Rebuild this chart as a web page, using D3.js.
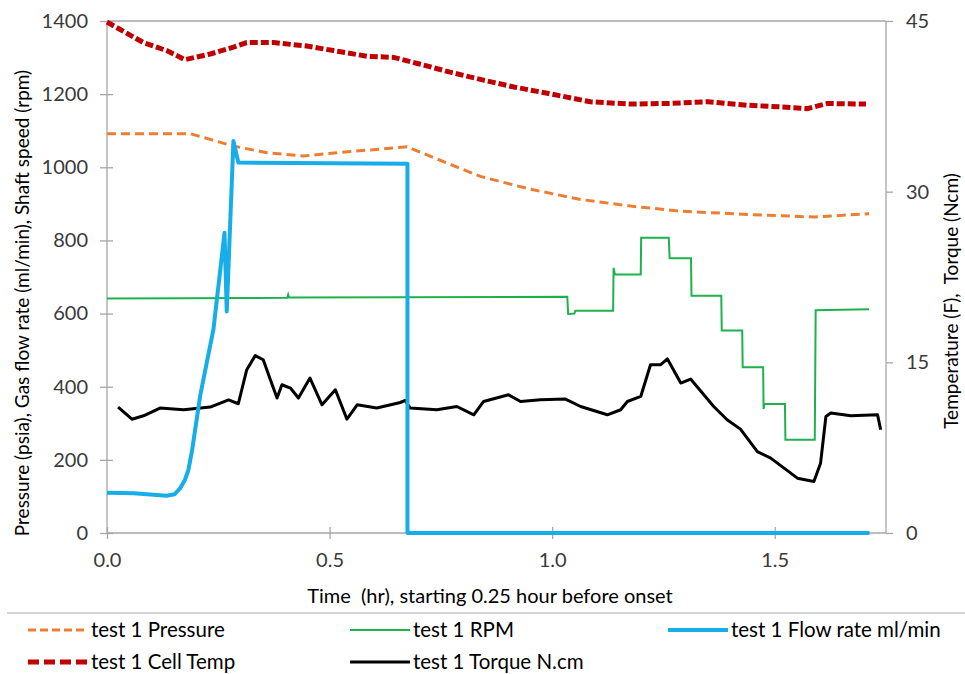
<!DOCTYPE html>
<html><head><meta charset="utf-8">
<script src="https://cdn.jsdelivr.net/npm/d3@7"></script>
<style>
body{margin:0;background:#fff;}
svg{display:block;font-family:Lato,"Open Sans",sans-serif;}
</style></head>
<body><svg id="c" width="965" height="674"></svg>
<script>
const xTicks = [0, 0.5, 1.0, 1.5];
const leftTicks = [0, 200, 400, 600, 800, 1000, 1200, 1400];
const rightTicks = [0, 15, 30, 45];

const pressT = [0, 0.187, 0.23, 0.284, 0.359, 0.441, 0.546, 0.674, 0.771, 0.839, 0.951, 1.064, 1.176, 1.288, 1.438, 1.588, 1.712];
const pressV = [1092, 1092, 1077, 1058, 1040, 1031, 1043, 1056, 1008, 975, 940, 912, 894, 880, 871, 864, 873];

const tempT = [0, 0.082, 0.134, 0.175, 0.232, 0.284, 0.314, 0.374, 0.449, 0.509, 0.584, 0.644, 0.704, 0.771, 0.846, 0.914, 0.989, 1.086, 1.176, 1.259, 1.349, 1.438, 1.513, 1.573, 1.618, 1.705];
const tempV = [44.9, 43.1, 42.4, 41.6, 42.1, 42.7, 43.1, 43.1, 42.8, 42.4, 41.9, 41.8, 41.2, 40.5, 39.8, 39.2, 38.65, 37.9, 37.7, 37.75, 37.9, 37.6, 37.45, 37.3, 37.75, 37.7];

const flowT = [0, 0.06, 0.134, 0.152, 0.164, 0.175, 0.183, 0.191, 0.198, 0.209, 0.224, 0.239, 0.258, 0.264, 0.269, 0.284, 0.295, 0.675, 0.675, 1.713];
const flowV = [110, 109, 102, 106, 122, 145, 173, 225, 282, 373, 465, 556, 757, 821, 606, 1072, 1013, 1010, 0, 0];

const rpmT = [0, 0.405, 0.407, 0.409, 1.034, 1.036, 1.05, 1.052, 1.137, 1.138, 1.141, 1.199, 1.200, 1.262, 1.264, 1.312, 1.313, 1.380, 1.381, 1.427, 1.428, 1.474, 1.475, 1.477, 1.523, 1.524, 1.590, 1.592, 1.712];
const rpmV = [641, 643, 652, 644, 646, 599, 600, 608, 608, 725, 707, 707, 807, 807, 751, 751, 649, 649, 554, 554, 453, 453, 339, 353, 353, 255, 255, 609, 612];

const torqT = [0.025,0.056,0.082,0.119,0.172,0.232,0.273,0.295,0.314,0.333,0.351,0.367,0.382,0.393,0.412,0.430,0.456,0.483,0.513,0.539,0.562,0.606,0.659,0.670,0.681,0.741,0.786,0.824,0.846,0.902,0.929,0.974,1.030,1.064,1.124,1.154,1.169,1.199,1.221,1.244,1.259,1.289,1.311,1.363,1.393,1.423,1.461,1.491,1.521,1.551,1.588,1.603,1.615,1.626,1.671,1.731,1.738];
const torqV = [11.07,10.0,10.3,10.98,10.83,11.07,11.7,11.36,14.35,15.59,15.23,13.47,11.86,13.03,12.74,11.86,13.62,11.27,12.59,10.01,11.27,10.98,11.47,11.65,10.98,10.83,11.12,10.39,11.56,12.15,11.56,11.71,11.77,11.12,10.39,10.83,11.56,12.0,14.79,14.79,15.3,13.18,13.53,11.12,9.95,9.13,7.16,6.58,5.70,4.82,4.52,6.14,10.24,10.54,10.30,10.39,9.07];

const legendNames = ["test 1 Pressure", "test 1 RPM", "test 1 Flow rate ml/min", "test 1 Cell Temp", "test 1 Torque N.cm"];

const svg = d3.select("#c");
const X0 = 107, X1 = 886, Y0 = 533, Y1 = 21;
const x = d3.scaleLinear().domain([0, 1.75]).range([X0, X1]);
const yL = d3.scaleLinear().domain([0, 1400]).range([Y0, Y1]);
const yR = d3.scaleLinear().domain([0, 45]).range([Y0, Y1]);
const axisCol = "#a6a6a6", textCol = "#3a3a3a";

svg.append("line").attr("x1", X0).attr("x2", X1).attr("y1", yL(1400)).attr("y2", yL(1400)).attr("stroke", axisCol).attr("stroke-width", 1.3);

const gL = svg.append("g").attr("transform", `translate(${X0},0)`)
  .call(d3.axisLeft(yL).tickValues(leftTicks).tickSize(7).tickPadding(12).tickFormat(d3.format("d")));
gL.selectAll(".tick line").attr("x2", -7).attr("x1", 6);
const gR = svg.append("g").attr("transform", `translate(${X1},0)`)
  .call(d3.axisRight(yR).tickValues(rightTicks).tickSize(7).tickPadding(13));
const gB = svg.append("g").attr("transform", `translate(0,${Y0})`)
  .call(d3.axisBottom(x).tickValues(xTicks).tickSize(6).tickPadding(14).tickFormat(d3.format(".1f")));
gB.selectAll(".tick line").attr("y1", -6).attr("y2", 6);
[gL, gR, gB].forEach(g => {
  g.select(".domain").attr("stroke", axisCol).attr("stroke-width", 1.3);
  g.selectAll(".tick line").attr("stroke", axisCol).attr("stroke-width", 1.3);
  g.selectAll(".tick text").attr("fill", textCol).style("font-size", "20px").style("font-family", "Lato");
});
gL.select(".domain").attr("d", `M0,${Y0}V${Y1}`);
gR.select(".domain").attr("d", `M0,${Y0}V${Y1}`);
gB.select(".domain").attr("d", `M${X0},0H${X1}`);

function mkLine(T, V, ys) {
  return d3.line().x((d, i) => x(T[i])).y((d, i) => ys(V[i]))(V);
}
svg.append("path").attr("d", mkLine(pressT, pressV, yL)).attr("fill", "none").attr("stroke", "#ED7D31").attr("stroke-width", 3).attr("stroke-dasharray", "9,5");
svg.append("path").attr("d", mkLine(tempT, tempV, yR)).attr("fill", "none").attr("stroke", "#C00000").attr("stroke-width", 5).attr("stroke-dasharray", "8,3");
svg.append("path").attr("d", mkLine(rpmT, rpmV, yL)).attr("fill", "none").attr("stroke", "#1DB24B").attr("stroke-width", 2);
svg.append("path").attr("d", mkLine(torqT, torqV, yR)).attr("fill", "none").attr("stroke", "#000").attr("stroke-width", 3).attr("stroke-linejoin", "round");
svg.append("path").attr("d", mkLine(flowT, flowV, yL)).attr("fill", "none").attr("stroke", "#16ADE9").attr("stroke-width", 4).attr("stroke-linejoin", "round");

svg.append("text").attr("transform", "translate(29,303) rotate(-90)").attr("text-anchor", "middle")
  .style("font-size", "19px").attr("fill", "#000").text("Pressure (psia), Gas flow rate (ml/min), Shaft speed (rpm)");
svg.append("text").attr("transform", "translate(958,301) rotate(-90)").attr("text-anchor", "middle")
  .style("font-size", "19px").attr("fill", "#000").attr("xml:space", "preserve").text("Temperature (F),  Torque (Ncm)");
svg.append("text").attr("x", 490).attr("y", 603).attr("text-anchor", "middle")
  .style("font-size", "20px").attr("fill", "#000").attr("xml:space", "preserve").text("Time  (hr), starting 0.25 hour before onset");

svg.append("line").attr("x1", 7).attr("x2", 965).attr("y1", 613).attr("y2", 613).attr("stroke", "#c8c8c8").attr("stroke-width", 1.5);

const legStyles = [
  {c: "#ED7D31", w: 3, dash: "8,4", x: 28, y: 630},
  {c: "#1DB24B", w: 2, dash: null, x: 350, y: 630},
  {c: "#16ADE9", w: 4, dash: null, x: 668, y: 630},
  {c: "#C00000", w: 5, dash: "11,5", x: 28, y: 662},
  {c: "#000", w: 3, dash: null, x: 350, y: 662}
];
legendNames.forEach((n, i) => {
  const s = legStyles[i];
  svg.append("line").attr("x1", s.x).attr("x2", s.x + 60).attr("y1", s.y).attr("y2", s.y)
    .attr("stroke", s.c).attr("stroke-width", s.w).attr("stroke-dasharray", s.dash);
  svg.append("text").attr("x", s.x + 63).attr("y", s.y + 7).style("font-size", "20.5px").attr("fill", "#000").text(n);
});
</script></body></html>
